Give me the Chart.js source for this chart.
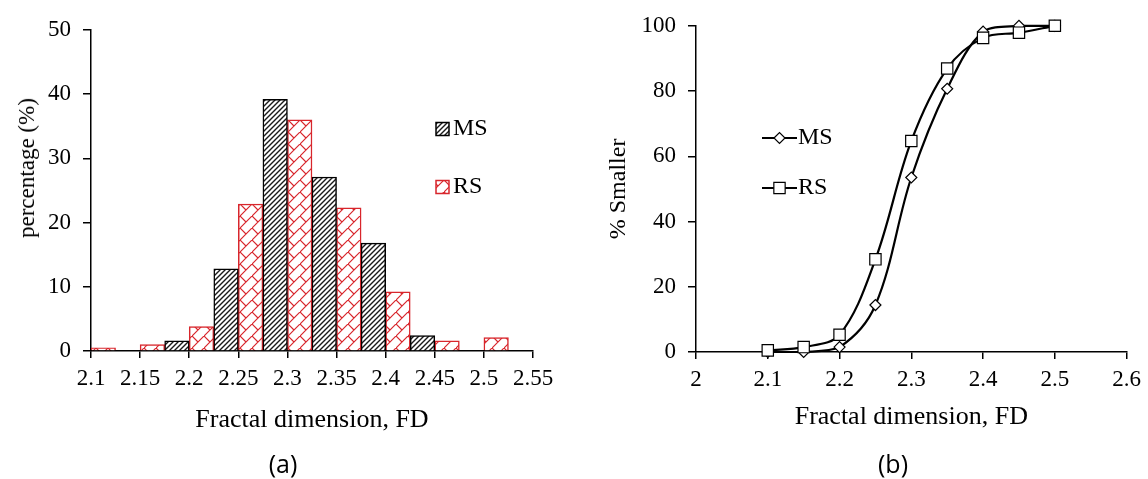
<!DOCTYPE html>
<html>
<head>
<meta charset="utf-8">
<script src="https://cdn.jsdelivr.net/npm/chart.js@4/dist/chart.umd.min.js"></script>
<style>
  html, body { margin: 0; padding: 0; background: #fff; }
  #wrap { position: relative; width: 1148px; height: 479px; overflow: hidden; }
  .pane { position: absolute; top: 0; }
  .cap { position: absolute; top: 463px; transform: translate(-50%, -50%);
         font: 25px 'Open Sans', 'Liberation Sans', sans-serif; color: #000; }
  .ytitle { position: absolute; transform: translate(-50%, -50%) rotate(-90deg);
            font: 23px 'Liberation Serif', 'Times New Roman', serif; color: #000; white-space: nowrap; }
</style>
</head>
<body>
<div id="wrap">
  <div class="pane" style="left:0;width:580px;height:479px"><canvas id="histChart" width="580" height="479"></canvas></div>
  <div class="pane" style="left:580px;width:568px;height:479px"><canvas id="cumChart" width="568" height="479"></canvas></div>
  <div class="ytitle" style="left:27px;top:168px">percentage (%)</div>
  <div class="cap" style="left:283px">(a)</div>
  <div class="cap" style="left:893px">(b)</div>
</div>
<script>
// (a) histogram: bins of 0.05, RS bar in the left half, MS bar in the right half
const binStart = [2.1, 2.15, 2.2, 2.25, 2.3, 2.35, 2.4, 2.45, 2.5];
const binWidth = 0.05;
const msPct = [0, 1.6, 12.8, 39.2, 27.1, 16.8, 2.4, 0, 0];
const rsPct = [0.5, 1.0, 3.8, 22.9, 36.0, 22.3, 9.2, 1.6, 2.1];
const histTicksX = [2.1, 2.15, 2.2, 2.25, 2.3, 2.35, 2.4, 2.45, 2.5, 2.55];

// (b) cumulative curves
const fdPoints = [2.1, 2.15, 2.2, 2.25, 2.3, 2.35, 2.4, 2.45, 2.5];
const msSmaller = [0, 0, 1.5, 14.4, 53.5, 80.7, 98.2, 100, 100];
const rsSmaller = [0.5, 1.5, 5.3, 28.4, 64.7, 86.9, 96.3, 97.9, 100];
const cumTicksX = [2, 2.1, 2.2, 2.3, 2.4, 2.5, 2.6];

const SERIF = "'Liberation Serif', 'Times New Roman', serif";
const RED = '#d8262c';

Chart.defaults.color = '#000';
Chart.defaults.font.family = SERIF;

function hatchPattern(color) {
    const c = document.createElement('canvas');
    c.width = c.height = 5;
    const g = c.getContext('2d');
    g.fillStyle = '#fff';
    g.fillRect(0, 0, 5, 5);
    g.strokeStyle = color;
    g.lineWidth = 1.4;
    g.beginPath();
    g.moveTo(-1, 6); g.lineTo(6, -1);
    g.moveTo(-1, 1); g.lineTo(1, -1);
    g.moveTo(4, 6); g.lineTo(6, 4);
    g.stroke();
    return g.createPattern(c, 'repeat');
}

function brickPattern(color) {
    const s = 12;
    const c = document.createElement('canvas');
    c.width = c.height = s;
    const g = c.getContext('2d');
    g.fillStyle = '#fff';
    g.fillRect(0, 0, s, s);
    g.strokeStyle = color;
    g.lineWidth = 1.2;
    g.beginPath();
    g.moveTo(-1, s + 1); g.lineTo(s + 1, -1);
    g.moveTo(0, 0); g.lineTo(s / 2, s / 2);
    g.stroke();
    return g.createPattern(c, 'repeat');
}

// legend drawn at a fixed spot inside the plot
const spotLegend = {
    id: 'spotLegend',
    afterDraw(chart, args, opts) {
        const ctx = chart.ctx;
        ctx.save();
        ctx.font = opts.fontSize + 'px ' + SERIF;
        ctx.textBaseline = 'middle';
        chart.data.datasets.forEach((ds, i) => {
            const y = opts.y + i * opts.gap;
            let tx;
            if (opts.kind === 'box') {
                const b = 13;
                ctx.fillStyle = ds.backgroundColor;
                ctx.fillRect(opts.x, y - b / 2, b, b);
                ctx.strokeStyle = ds.borderColor;
                ctx.lineWidth = 1.5;
                ctx.strokeRect(opts.x, y - b / 2, b, b);
                tx = opts.x + b + 4;
            } else {
                const len = 35;
                ctx.strokeStyle = ds.borderColor;
                ctx.lineWidth = ds.borderWidth;
                ctx.beginPath();
                ctx.moveTo(opts.x, y); ctx.lineTo(opts.x + len, y);
                ctx.stroke();
                ctx.fillStyle = ds.pointBackgroundColor;
                ctx.strokeStyle = ds.pointBorderColor;
                ctx.lineWidth = ds.pointBorderWidth;
                Chart.helpers.drawPoint(ctx, {
                    pointStyle: ds.pointStyle, rotation: 0,
                    radius: ds.pointRadius, borderWidth: ds.pointBorderWidth
                }, opts.x + len / 2, y);
                tx = opts.x + len + 1;
            }
            ctx.fillStyle = '#000';
            ctx.fillText(ds.label, tx, y);
        });
        ctx.restore();
    }
};

function axisX(min, max, ticks, height, titlePadBottom) {
    return {
        type: 'linear', min: min, max: max, offset: false,
        afterBuildTicks: s => { s.ticks = ticks.map(v => ({value: v})); },
        afterFit: s => { s.height = height; },
        ticks: { font: {family: SERIF, size: 23}, padding: 7, maxRotation: 0, autoSkip: false,
                 callback: v => String(+v.toFixed(2)) },
        grid: { offset: false, drawOnChartArea: false, drawTicks: true, tickLength: 7, color: '#000', lineWidth: 1.5 },
        border: { display: true, color: '#000', width: 1.5 },
        title: { display: true, text: 'Fractal dimension, FD', font: {family: SERIF, size: 26},
                 padding: {top: 0, bottom: titlePadBottom} }
    };
}

function axisY(max, step, width) {
    return {
        min: 0, max: max,
        afterFit: s => { s.width = width; },
        ticks: { stepSize: step, font: {family: SERIF, size: 23}, padding: 12 },
        grid: { drawOnChartArea: false, drawTicks: true, tickLength: 8, color: '#000', lineWidth: 1.5 },
        border: { display: true, color: '#000', width: 1.5 }
    };
}

const msHatch = hatchPattern('#1a1a1a');
const rsBrick = brickPattern(RED);

new Chart(document.getElementById('histChart'), {
    type: 'bar',
    data: {
        datasets: [{
            label: 'MS',
            data: binStart.map((b, i) => ({x: b + binWidth * 0.75, y: msPct[i] || null})),
            backgroundColor: msHatch,
            borderColor: '#000',
            borderWidth: 1.5,
            grouped: false,
            barPercentage: 1,
            categoryPercentage: 1
        }, {
            label: 'RS',
            data: binStart.map((b, i) => ({x: b + binWidth * 0.25, y: rsPct[i] || null})),
            backgroundColor: rsBrick,
            borderColor: RED,
            borderWidth: 1.5,
            grouped: false,
            barPercentage: 1,
            categoryPercentage: 1
        }]
    },
    options: {
        responsive: false,
        animation: false,
        layout: { padding: {left: 0, top: 30, right: 47, bottom: 0} },
        scales: {
            x: axisX(2.1, 2.55, histTicksX, 128, 43),
            y: axisY(50, 10, 91)
        },
        plugins: {
            legend: { display: false },
            tooltip: { enabled: false },
            spotLegend: { kind: 'box', x: 436, y: 129, gap: 58, fontSize: 24 }
        }
    },
    plugins: [spotLegend]
});

new Chart(document.getElementById('cumChart'), {
    type: 'line',
    data: {
        datasets: [{
            label: 'MS',
            data: fdPoints.map((x, i) => ({x: x, y: msSmaller[i]})),
            borderColor: '#000',
            borderWidth: 2.2,
            tension: 0.35,
            pointStyle: 'rectRot',
            pointRadius: 5.5,
            pointBackgroundColor: '#fff',
            pointBorderColor: '#000',
            pointBorderWidth: 1.2,
            order: 1,
            clip: false
        }, {
            label: 'RS',
            data: fdPoints.map((x, i) => ({x: x, y: rsSmaller[i]})),
            borderColor: '#000',
            borderWidth: 2.2,
            tension: 0.35,
            pointStyle: 'rect',
            pointRadius: 8,
            pointBackgroundColor: '#fff',
            pointBorderColor: '#000',
            pointBorderWidth: 1.2,
            order: 0,
            clip: false
        }]
    },
    options: {
        responsive: false,
        animation: false,
        layout: { padding: {left: 0, top: 19, right: 21, bottom: 0} },
        scales: {
            x: axisX(2, 2.6, cumTicksX, 127, 46),
            y: Object.assign(axisY(100, 20, 116), {
                title: { display: true, text: '% Smaller', font: {family: SERIF, size: 24}, padding: {top: 24, bottom: 0} }
            })
        },
        plugins: {
            legend: { display: false },
            tooltip: { enabled: false },
            spotLegend: { kind: 'line', x: 182, y: 138, gap: 50, fontSize: 24 }
        }
    },
    plugins: [spotLegend]
});
</script>
</body>
</html>
